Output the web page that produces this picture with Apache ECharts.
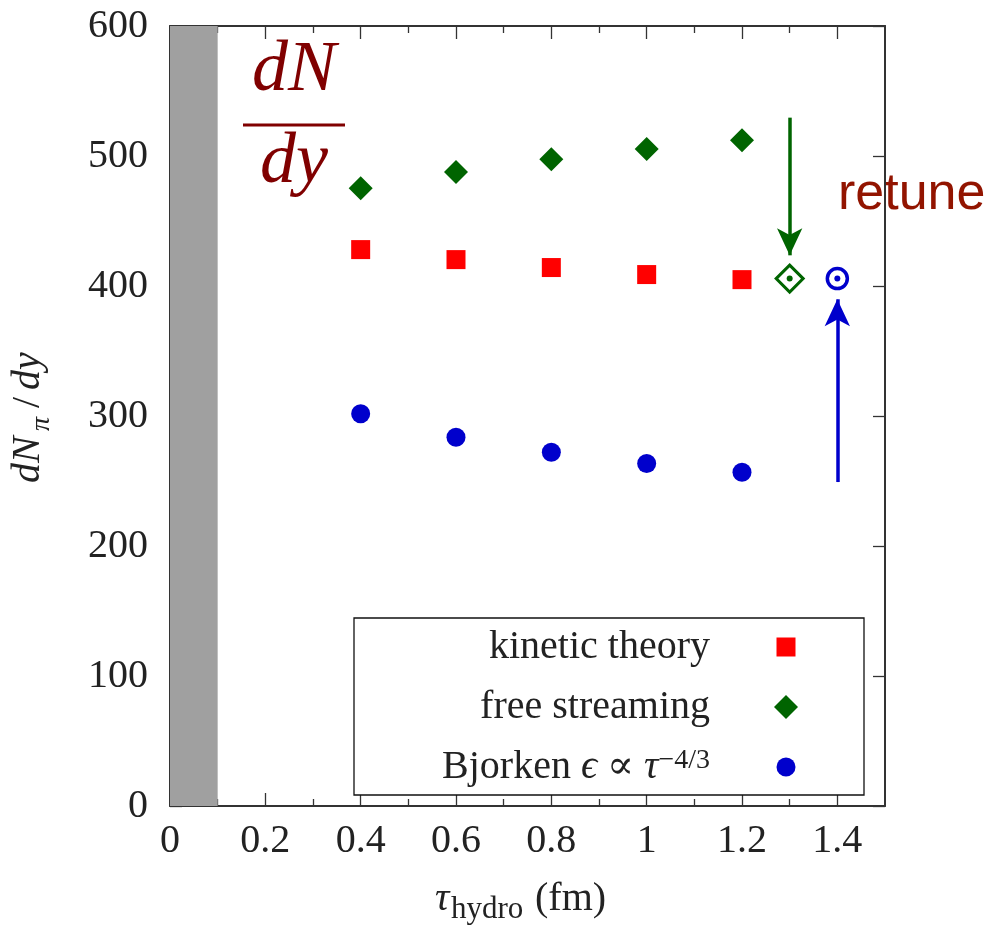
<!DOCTYPE html>
<html><head><meta charset="utf-8">
<script src="https://cdn.jsdelivr.net/npm/echarts@6/dist/echarts.min.js"></script>
<style>html,body{margin:0;padding:0;background:#fff}#c{width:987px;height:930px}</style>
</head><body><div id="c"></div>
<script>
// ---- data ----
const tau = [0.4, 0.6, 0.8, 1.0, 1.2];
const kinetic = [428.0, 420.3, 414.2, 408.8, 404.9];
const freeStreaming = [475.2, 487.7, 497.5, 505.4, 512.1];
const bjorken = [301.8, 283.6, 272.1, 263.4, 256.7];
const retuneFS = [[1.3, 405.7]];
const retuneBj = [[1.4, 405.7]];
const arrowFS = [[1.3, 529.5], [1.3, 423.6]];
const arrowBj = [[1.4, 249.2], [1.4, 389.8]];
const preHydroBand = [0, 0.1];
const xMajor = [0, 0.2, 0.4, 0.6, 0.8, 1.0, 1.2, 1.4];
const xMinor = [0.1, 0.3, 0.5, 0.7, 0.9, 1.1, 1.3];
const yTicks = [0, 100, 200, 300, 400, 500, 600];
const seriesNames = ['kinetic theory', 'free streaming', 'Bjorken \u03f5 \u221d \u03c4^(\u22124/3)'];

const SERIF = '"Liberation Serif","DejaVu Serif",serif';
const SANS = '"Liberation Sans",Arial,sans-serif';
const GREEN = '#006400', RED = '#ff0000', BLUE = '#0000cc', DARKRED = '#800000';
const AX = '#333';

const zip = (xs, ys) => xs.map((x, i) => [x, ys[i]]);

// legend icons: invisible bounds (M-only points) at +-12 so the visible glyph keeps its own size
const ICON_SQUARE = 'path://M-12,-12M12,12M-9.5,-9.5L9.5,-9.5L9.5,9.5L-9.5,9.5Z';
const ICON_DIAMOND = 'path://M-12,-12M12,12M0,-12.5L12.5,0L0,12.5L-12.5,0Z';
const ICON_CIRCLE = 'path://M-12,-12M12,12M-9.5,0A9.5,9.5,0,1,1,9.5,0A9.5,9.5,0,1,1,-9.5,0Z';

const chart = echarts.init(document.getElementById('c'), null, {renderer: 'canvas'});

function xAx(pos, ticks, len, showLine, showLabel) {
  return {
    type: 'value', position: pos, min: 0, max: 1.5,
    axisLine: {show: showLine, onZero: false, lineStyle: {color: AX, width: 2}},
    splitLine: {show: false},
    axisTick: {show: true, inside: true, length: len, customValues: ticks, lineStyle: {color: AX, width: 1.3}},
    axisLabel: {show: showLabel, customValues: ticks, margin: 15, color: '#222', fontFamily: SERIF, fontSize: 40}
  };
}
function yAx(pos, showLabel) {
  return {
    type: 'value', position: pos, min: yTicks[0], max: yTicks[yTicks.length - 1], interval: 100,
    axisLine: {show: true, onZero: false, lineStyle: {color: AX, width: 2}},
    splitLine: {show: false},
    axisTick: {show: true, inside: true, length: 12, lineStyle: {color: AX, width: 1.3}},
    axisLabel: {show: showLabel, margin: 22, color: '#222', fontFamily: SERIF, fontSize: 40}
  };
}

const option = {
  animation: false,
  backgroundColor: '#fff',
  grid: {left: 170, top: 26, right: 102, bottom: 124, containLabel: false},
  xAxis: [
    xAx('bottom', xMajor, 13, true, true),
    xAx('bottom', xMinor, 7, false, false),
    xAx('top', xMajor, 13, true, false),
    xAx('top', xMinor, 7, false, false)
  ],
  yAxis: [yAx('left', true), yAx('right', false)],
  legend: {
    orient: 'vertical', left: 354, top: 618, align: 'right',
    backgroundColor: '#fff', borderColor: '#111', borderWidth: 1.3,
    padding: [9, 66, 8, 51], itemGap: 20, itemWidth: 24, itemHeight: 24,
    selectedMode: false,
    textStyle: {fontFamily: SERIF, fontSize: 40, lineHeight: 40, color: '#222', width: 305, align: 'right', padding: [0, 59, 0, 0]},
    data: [
      {name: seriesNames[0], icon: ICON_SQUARE},
      {name: seriesNames[1], icon: ICON_DIAMOND},
      {name: seriesNames[2], icon: ICON_CIRCLE}
    ],
    formatter: function (n) {
      if (n === seriesNames[2]) return 'Bjorken {m|\u03f5} \u221d {m|\u03c4}{s|\u22124/3}';
      return n;
    },
    z: 10
  },
  series: [
    {
      name: 'band', type: 'scatter', data: [], z: -1, silent: true,
      markArea: {silent: true, itemStyle: {color: '#a0a0a0'},
        data: [[{xAxis: preHydroBand[0], yAxis: 0}, {xAxis: preHydroBand[1], yAxis: 600}]]}
    },
    {name: seriesNames[0], type: 'scatter', symbol: 'rect', symbolSize: 19, itemStyle: {color: RED, opacity: 1}, data: zip(tau, kinetic)},
    {name: seriesNames[1], type: 'scatter', symbol: 'diamond', symbolSize: 24, itemStyle: {color: GREEN, opacity: 1}, data: zip(tau, freeStreaming)},
    {name: seriesNames[2], type: 'scatter', symbol: 'circle', symbolSize: 19, itemStyle: {color: BLUE, opacity: 1}, data: zip(tau, bjorken)},
    {
      name: 'retuneFS', type: 'scatter', symbol: 'diamond', symbolSize: 27,
      itemStyle: {color: '#fff', borderColor: GREEN, borderWidth: 3, opacity: 1}, data: retuneFS,
      markLine: {silent: true, symbol: ['none', 'arrow'], symbolSize: [19, 27], label: {show: false},
        lineStyle: {color: GREEN, width: 3.5, type: 'solid'},
        data: [[{coord: arrowFS[0]}, {coord: arrowFS[1]}]]}
    },
    {
      name: 'retuneBj', type: 'scatter', symbol: 'circle', symbolSize: 20,
      itemStyle: {color: '#fff', borderColor: BLUE, borderWidth: 3.5, opacity: 1}, data: retuneBj,
      markLine: {silent: true, symbol: ['none', 'arrow'], symbolSize: [19, 27], label: {show: false},
        lineStyle: {color: BLUE, width: 3.5, type: 'solid'},
        data: [[{coord: arrowBj[0]}, {coord: arrowBj[1]}]]}
    },
    {name: 'dotFS', type: 'scatter', symbol: 'circle', symbolSize: 6, z: 3, itemStyle: {color: GREEN, opacity: 1}, data: retuneFS},
    {name: 'dotBj', type: 'scatter', symbol: 'circle', symbolSize: 6, z: 3, itemStyle: {color: BLUE, opacity: 1}, data: retuneBj}
  ],
  graphic: [
    // dN/dy fraction
    {type: 'text', x: 294, y: 71, style: {text: 'dN', font: 'italic 72px ' + SERIF, fill: DARKRED, textAlign: 'center', textVerticalAlign: 'middle'}},
    {type: 'line', shape: {x1: 243, y1: 125, x2: 345, y2: 125}, style: {stroke: DARKRED, lineWidth: 3}},
    {type: 'text', x: 294, y: 163, style: {text: 'dy', font: 'italic 72px ' + SERIF, fill: DARKRED, textAlign: 'center', textVerticalAlign: 'middle'}},
    // retune
    {type: 'text', x: 838, y: 195, z: -1, style: {text: 'retune', font: '52px ' + SANS, fill: '#921400', textAlign: 'left', textVerticalAlign: 'middle'}},
    // y axis title, rotated
    {type: 'group', x: 28.5, y: 483, rotation: Math.PI / 2, children: [
      {type: 'text', x: 0, y: 0, style: {text: 'dN', font: 'italic 40px ' + SERIF, fill: '#222', textAlign: 'left', textVerticalAlign: 'middle'}},
      {type: 'text', x: 52, y: 13, style: {text: '\u03c0', font: 'italic 28px ' + SERIF, fill: '#222', textAlign: 'left', textVerticalAlign: 'middle'}},
      {type: 'text', x: 75, y: 0, style: {text: '/', font: '40px ' + SERIF, fill: '#222', textAlign: 'left', textVerticalAlign: 'middle'}},
      {type: 'text', x: 93, y: 0, style: {text: 'dy', font: 'italic 40px ' + SERIF, fill: '#222', textAlign: 'left', textVerticalAlign: 'middle'}}
    ]},
    // x axis title
    {type: 'text', x: 435, y: 899.5, style: {text: '\u03c4', font: 'italic 40px ' + SERIF, fill: '#222', textAlign: 'left', textVerticalAlign: 'middle'}},
    {type: 'text', x: 451, y: 910, style: {text: 'hydro', font: '31px ' + SERIF, fill: '#222', textAlign: 'left', textVerticalAlign: 'middle'}},
    {type: 'text', x: 535, y: 899.5, style: {text: '(fm)', font: '40px ' + SERIF, fill: '#222', textAlign: 'left', textVerticalAlign: 'middle'}}
  ]
};
option.legend.textStyle.rich = {
  m: {fontFamily: SERIF, fontStyle: 'italic', fontSize: 40, color: '#222'},
  s: {fontFamily: SERIF, fontSize: 28, color: '#222', verticalAlign: 'top', padding: [0, 0, 18, 0]}
};
chart.setOption(option);
</script>
</body></html>
